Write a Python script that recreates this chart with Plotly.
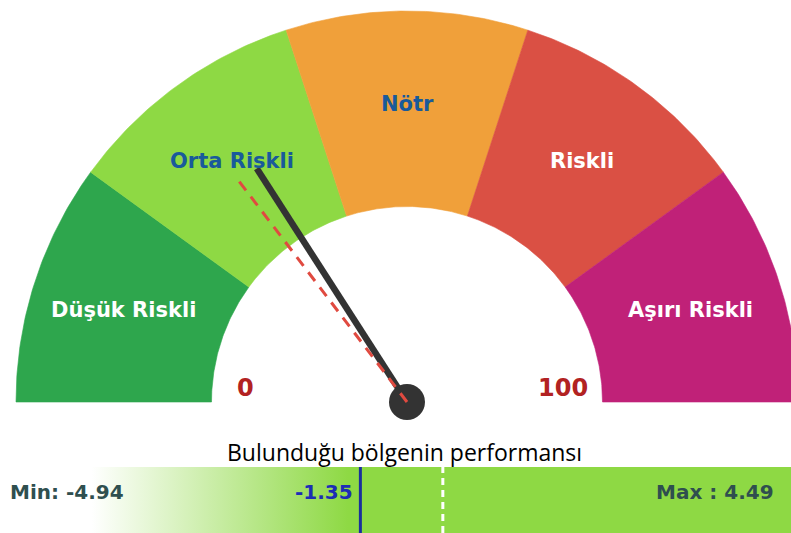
import numpy as np
import plotly.graph_objects as go

# ---------------- data ----------------
band_labels = ["Düşük Riskli", "Orta Riskli", "Nötr", "Riskli", "Aşırı Riskli"]
band_edges = [0, 20, 40, 60, 80, 100]
band_colors = ["#2ea64d", "#8ed944", "#f0a03a", "#da5044", "#c02178"]
label_colors = ["#ffffff", "#195a9b", "#195a9b", "#ffffff", "#ffffff"]
gauge_min = 0
gauge_max = 100
needle_value = 31.8
marker_value = 29.3

bar_title = "Bulunduğu bölgenin performansı"
perf_value = -1.35
perf_ref = 0.0
perf_min = -4.94
perf_max = 4.49

# ---------------- geometry helpers ----------------
W, H = 791, 533
R_OUT, R_IN = 1.0, 0.5
R_LABEL, R_NEEDLE = 0.762, 0.71
CX, CY, RPX = 407, 402, 391   # gauge centre / radius in pixels


def ang(v):
    return np.pi * (1 - (v - gauge_min) / (gauge_max - gauge_min))


def pol(r, v):
    a = ang(v)
    return r * np.cos(a), r * np.sin(a)


fig = go.Figure()

# gauge bands
for i, lab in enumerate(band_labels):
    v0, v1 = band_edges[i], band_edges[i + 1]
    vs = np.linspace(v0, v1, 60)
    xo, yo = pol(R_OUT, vs)
    xi, yi = pol(R_IN, vs[::-1])
    fig.add_trace(go.Scatter(
        x=np.concatenate([xo, xi, xo[:1]]), y=np.concatenate([yo, yi, yo[:1]]),
        fill="toself", fillcolor=band_colors[i], mode="lines",
        line=dict(width=0.6, color=band_colors[i]), hoverinfo="skip",
        showlegend=False, xaxis="x", yaxis="y"))
    lx, ly = pol(R_LABEL, (v0 + v1) / 2)
    fig.add_annotation(x=lx, y=ly, xref="x", yref="y", text=f"<b>{lab}</b>",
                       showarrow=False,
                       font=dict(family="DejaVu Sans", size=21, color=label_colors[i]))

# needle
nx, ny = pol(R_NEEDLE, needle_value)
fig.add_trace(go.Scatter(x=[0, nx], y=[0, ny], mode="lines",
                         line=dict(color="#333333", width=6.5), hoverinfo="skip",
                         showlegend=False, xaxis="x", yaxis="y"))
fig.add_trace(go.Scatter(x=[0], y=[0], mode="markers",
                         marker=dict(size=36, color="#333333"), hoverinfo="skip",
                         showlegend=False, xaxis="x", yaxis="y"))
mx, my = pol(R_NEEDLE, marker_value)
fig.add_trace(go.Scatter(x=[0, mx], y=[0, my], mode="lines",
                         line=dict(color="#e04a40", width=3, dash="11px,8px"),
                         hoverinfo="skip", showlegend=False, xaxis="x", yaxis="y"))

# min / max labels of the gauge
fig.add_annotation(x=-0.413, y=0.036, xref="x", yref="y", text=f"<b>{gauge_min}</b>",
                   showarrow=False, font=dict(family="DejaVu Sans", size=24, color="#b22222"))
fig.add_annotation(x=0.399, y=0.036, xref="x", yref="y", text=f"<b>{gauge_max}</b>",
                   showarrow=False, font=dict(family="DejaVu Sans", size=24, color="#b22222"))

# ---------------- performance bar ----------------
bar_range = [-7.25, 5.70]
fig.add_trace(go.Scatter(
    x=[bar_range[0], bar_range[1], bar_range[1], bar_range[0], bar_range[0]],
    y=[0, 0, 1, 1, 0], fill="toself", mode="lines", line=dict(width=0),
    fillgradient=dict(type="horizontal", start=-5.75, stop=-1.55,
                      colorscale=[[0, "#ffffff"], [1, "#8ed944"]]),
    hoverinfo="skip", showlegend=False, xaxis="x2", yaxis="y2"))
fig.add_trace(go.Scatter(x=[perf_ref, perf_ref], y=[0, 1], mode="lines",
                         line=dict(color="#ffffff", width=3, dash="7px,5px"),
                         hoverinfo="skip", showlegend=False, xaxis="x2", yaxis="y2"))
fig.add_trace(go.Scatter(x=[perf_value, perf_value], y=[0, 1], mode="lines",
                         line=dict(color="#1a2f9c", width=3),
                         hoverinfo="skip", showlegend=False, xaxis="x2", yaxis="y2"))

fig.add_annotation(x=perf_value, y=0.62, xref="x2", yref="y2", xanchor="right", xshift=-5,
                   text=f"<b>{perf_value:.2f}</b>", showarrow=False,
                   font=dict(family="DejaVu Sans", size=20, color="#1c2db5"))
fig.add_annotation(x=8 / W, y=0.62, xref="paper", yref="y2", xanchor="left",
                   text=f"<b>Min: {perf_min:.2f}</b>", showarrow=False,
                   font=dict(family="DejaVu Sans", size=20, color="#2f4f4f"))
fig.add_annotation(x=776 / W, y=0.62, xref="paper", yref="y2", xanchor="right",
                   text=f"<b>Max : {perf_max:.2f}</b>", showarrow=False,
                   font=dict(family="DejaVu Sans", size=20, color="#2f4f4f"))
fig.add_annotation(x=404 / W, y=(H - 452) / H, xref="paper", yref="paper",
                   xanchor="center", yanchor="middle",
                   text=bar_title, showarrow=False,
                   font=dict(family="Open Sans", size=23, color="#000000"))

axis_off = dict(visible=False, fixedrange=True)
fig.update_layout(
    width=W, height=H,
    margin=dict(l=0, r=0, t=0, b=0),
    paper_bgcolor="white", plot_bgcolor="rgba(0,0,0,0)",
    xaxis=dict(domain=[0, 1], range=[-CX / RPX, (W - CX) / RPX], **axis_off),
    yaxis=dict(domain=[(H - 430) / H, 1], range=[-(430 - CY) / RPX, CY / RPX], **axis_off),
    xaxis2=dict(domain=[0, 1], range=bar_range, anchor="y2", **axis_off),
    yaxis2=dict(domain=[0, 66 / H], range=[0, 1], anchor="x2", **axis_off),
)

# remove the browser's default 8px body margin so the figure fills the window
fig.write_html("out.html", config={"displayModeBar": False},
               post_script="document.body.style.margin='0';")
